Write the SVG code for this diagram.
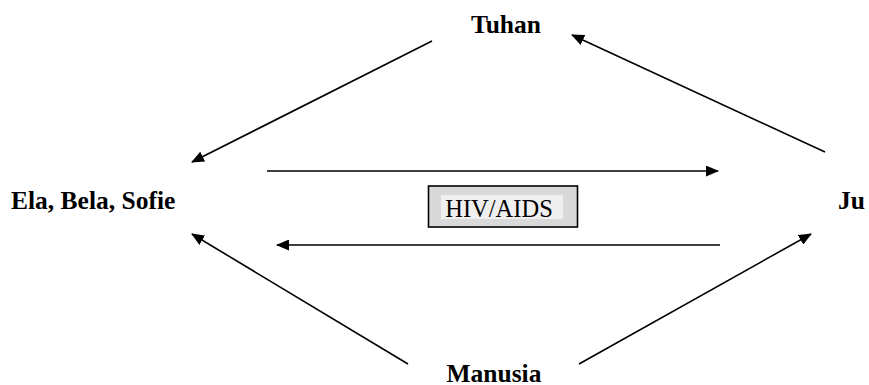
<svg xmlns="http://www.w3.org/2000/svg" width="869" height="385" viewBox="0 0 869 385">
<defs>
<marker id="ah" markerWidth="13" markerHeight="11" refX="12" refY="5.5" orient="auto" markerUnits="userSpaceOnUse">
<path d="M0,0 L13,5.5 L0,11 Z" fill="#000"/>
</marker>
<style>
.lbl{font-family:"Liberation Serif","Times New Roman",serif;font-weight:bold;font-size:25.5px;fill:#000}
.cn{stroke:#000;stroke-width:1.6;fill:none;marker-end:url(#ah)}
.box{font-family:"Liberation Serif","Times New Roman",serif;font-size:24.5px;fill:#000}
</style>
</defs>
<rect width="869" height="385" fill="#fff"/>
<g id="connectors">
<line class="cn" x1="432" y1="41" x2="192" y2="162"/>
<line class="cn" x1="825" y1="152" x2="572" y2="35"/>
<line class="cn" x1="267" y1="171" x2="718" y2="171"/>
<line class="cn" x1="720" y1="245" x2="277" y2="245"/>
<line class="cn" x1="408" y1="364" x2="192" y2="234"/>
<line class="cn" x1="579" y1="364" x2="811" y2="234"/>
</g>
<g id="tuhan"><text class="lbl" x="506" y="33" text-anchor="middle">Tuhan</text></g>
<g id="ela"><text class="lbl" x="11" y="209">Ela, Bela, Sofie</text></g>
<g id="ju"><text class="lbl" x="838" y="209">Ju</text></g>
<g id="manusia"><text class="lbl" x="494" y="382" text-anchor="middle">Manusia</text></g>
<g id="hiv">
<rect x="428.5" y="186" width="149" height="41" fill="#d9d9d9" stroke="#000" stroke-width="1.6"/>
<rect x="441" y="195" width="122" height="24" fill="#efefef"/>
<text class="box" x="499" y="217" text-anchor="middle">HIV/AIDS</text>
</g>
</svg>
